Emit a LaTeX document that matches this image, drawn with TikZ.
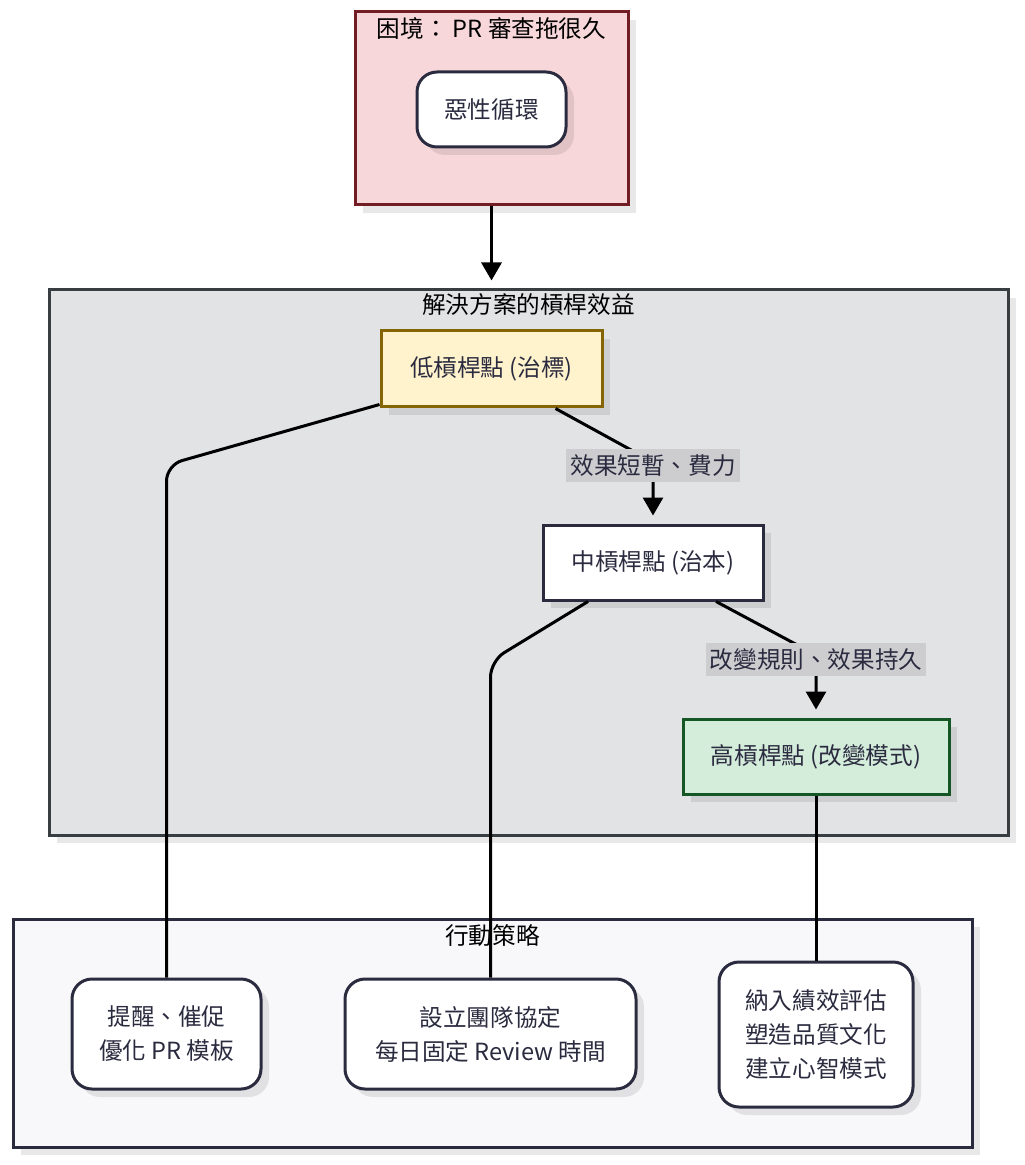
\documentclass[tikz,border=0pt]{standalone}
\usepackage{fontspec}
\setmainfont{Noto Sans CJK TC}
\usepackage{tikz}
\usetikzlibrary{arrows, arrows.meta, positioning, shadows}
\tikzset{>={Stealth[inset=0pt, length=9pt, width=10pt]}}
\definecolor{ink}{HTML}{2B2B40}
\definecolor{pinkbg}{HTML}{F8D7DA}
\definecolor{pinkline}{HTML}{721C24}
\definecolor{graybg}{HTML}{E2E3E5}
\definecolor{grayline}{HTML}{383D41}
\definecolor{goldbg}{HTML}{FFF3CD}
\definecolor{goldline}{HTML}{856404}
\definecolor{greenbg}{HTML}{D4EDDA}
\definecolor{greenline}{HTML}{155724}
\definecolor{palebg}{HTML}{F8F8FA}
\definecolor{tagbg}{HTML}{CDCDD0}

\begin{document}
\begin{tikzpicture}[x=0.5pt, y=-0.5pt, font=\fontsize{11.8}{17}\selectfont,
	shade/.style={drop shadow={shadow xshift=4pt, shadow yshift=-4pt, fill=black, opacity=0.09}},
	group/.style={draw, line width=1.5pt, inner sep=0pt, shade},
	box/.style={draw=ink, line width=1.5pt, fill=white, text=ink, align=center, inner sep=0pt, shade},
	soft/.style={box, rounded corners=10pt},
	link/.style={line width=1.5pt, rounded corners=8pt},
	tag/.style={fill=tagbg, text=ink, inner xsep=2pt, inner ysep=0pt, minimum height=16.5pt}]
		\useasboundingbox (0,0) rectangle (1024,1165);
		\node [group, fill=pinkbg, draw=pinkline, minimum width=136.5pt, minimum height=96.5pt] (issue) at (491.5,108.5) {};
		\node [group, fill=graybg, draw=grayline, minimum width=479.5pt, minimum height=272.5pt] (plan) at (528.5,562.5) {};
		\node [group, fill=palebg, draw=ink, minimum width=479.5pt, minimum height=114pt] (acts) at (492.5,1033) {};
		\node (issueT) at ([yshift=-9pt]issue.north) {困境： PR 審查拖很久};
		\node (planT) at ([yshift=-8pt]plan.north) {解決方案的槓桿效益};
		\node (actsT) at ([yshift=-9pt]acts.north) {行動策略};
		\node [soft, minimum width=74.5pt, minimum height=37.5pt] (loop) at (491.5,109.5) {惡性循環};
		\node [box, fill=goldbg, draw=goldline, minimum width=110.5pt, minimum height=38pt] (low) at (491.5,369) {低槓桿點 (治標)};
		\node [box, minimum width=110pt, minimum height=37.5pt] (mid) at (653,562.5) {中槓桿點 (治本)};
		\node [box, fill=greenbg, draw=greenline, minimum width=133pt, minimum height=37.5pt] (high) at (816,756.5) {高槓桿點 (改變模式)};
		\node [soft, minimum width=94.5pt, minimum height=55pt] (act1) at (166.5,1034) {提醒、催促\\優化 PR 模板};
		\node [soft, minimum width=145.5pt, minimum height=55pt] (act2) at (490.5,1034) {設立團隊協定\\每日固定 Review 時間};
		\node [soft, minimum width=97pt, minimum height=72.5pt] (act3) at (816,1034.5) {納入績效評估\\塑造品質文化\\建立心智模式};
		\draw [link, ->, shorten >=4pt] (issue.south) -- (issue.south |- plan.north);
		\draw [link, ->] ([xshift=32pt]low.south) -- (mid.north |- 0,462) -- ([yshift=4pt]mid.north);
		\draw [link, ->] ([xshift=31.5pt]mid.south) -- (high.north |- 0,655) -- ([yshift=4pt]high.north);
		\draw [link] ([yshift=2pt]low.south west) -- (act1.north |- 0,465) -- (act1.north);
		\draw [link] ([xshift=-32.5pt]mid.south) -- (act2.north |- 0,661) -- (act2.north);
		\draw [link] (high.south) -- (act3.north);
		\node [tag] (tag1) at (mid.north |- 0,465.5) {效果短暫、費力};
		\node [tag] (tag2) at (high.north |- 0,659.5) {改變規則、效果持久};
\end{tikzpicture}
\end{document}
